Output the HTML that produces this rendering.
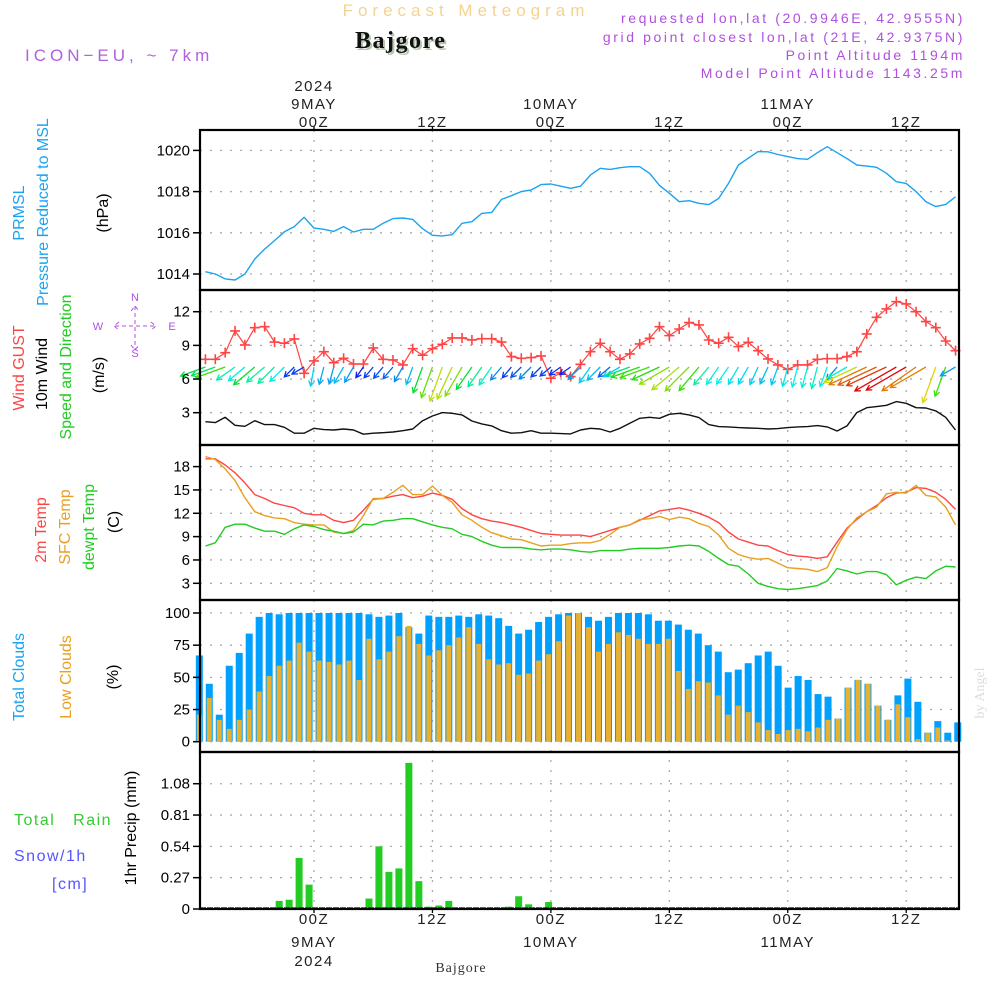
<!DOCTYPE html>
<html><head><meta charset="utf-8"><style>
html,body{margin:0;padding:0;background:#fff}
svg{display:block}
text{font-family:"Liberation Sans",sans-serif}
</style></head><body>
<svg id="chart" width="1000" height="1000" viewBox="0 0 1000 1000" xmlns="http://www.w3.org/2000/svg">
<rect width="1000" height="1000" fill="#fff"/>
<text x="466" y="16" text-anchor="middle" font-size="17" fill="#f5d38f" letter-spacing="5">Forecast Meteogram</text>
<text x="357" y="50" font-weight="bold" font-size="24" fill="#b8c8b0" letter-spacing="1.5" style="font-family:'Liberation Serif',serif">Bajgore</text>
<text x="355" y="48" font-weight="bold" font-size="24" fill="#111" letter-spacing="1.5" style="font-family:'Liberation Serif',serif">Bajgore</text>
<text x="25" y="61" font-size="17" fill="#b060e0" letter-spacing="4">ICON−EU, ~ 7km</text>
<g font-size="14" fill="#b050e0" text-anchor="end" letter-spacing="2.6">
<text x="965" y="23">requested lon,lat (20.9946E, 42.9555N)</text>
<text x="965" y="42">grid point closest lon,lat (21E, 42.9375N)</text>
<text x="965" y="60">Point Altitude 1194m</text>
<text x="965" y="78">Model Point Altitude 1143.25m</text>
</g>
<g id="grid"></g>
<g id="marks"></g>
<g id="frames"></g>
<g id="labels" font-size="15"></g>
<text transform="translate(984,693) rotate(-90)" text-anchor="middle" font-size="14" fill="#ddd" style="font-family:'Liberation Serif',serif">by Angel</text>
<text x="461" y="972" text-anchor="middle" font-size="14" fill="#333" letter-spacing="1" style="font-family:'Liberation Serif',serif">Bajgore</text>
</svg>
<script>
// ---- data (hours -11 .. 65 relative to 00Z 9 May) ----
const startHour = -11;
const pressure = [1014.11,1014.0,1013.76,1013.71,1014.0,1014.73,1015.21,1015.62,1016.05,1016.3,1016.75,1016.23,1016.17,1016.07,1016.3,1016.04,1016.17,1016.17,1016.46,1016.69,1016.72,1016.65,1016.2,1015.88,1015.85,1015.91,1016.46,1016.54,1016.94,1016.99,1017.62,1017.8,1018.0,1018.08,1018.34,1018.37,1018.26,1018.16,1018.26,1018.8,
1019.13,1019.08,1019.16,1019.21,1019.21,1018.89,1018.3,1017.92,1017.51,1017.56,1017.43,1017.37,1017.67,1018.4,1019.29,1019.62,1019.94,1019.93,1019.8,1019.7,1019.6,1019.57,1019.89,1020.18,1019.89,1019.6,1019.29,1019.24,1019.18,1018.89,1018.48,1018.4,1018.0,1017.51,1017.27,1017.38,1017.75];
const gust = [7.76,7.76,8.35,10.29,9.04,10.58,10.67,9.3,9.19,9.57,6.51,7.61,8.44,7.46,7.85,7.34,7.34,8.77,7.76,7.7,7.26,8.71,8.12,8.71,9.1,9.66,9.66,9.48,9.6,9.6,9.3,8.0,7.85,7.91,8.06,6.07,6.57,6.22,7.31,8.44,
9.19,8.44,7.76,8.24,9.13,9.63,10.67,9.87,10.46,11.03,10.82,9.48,9.19,9.72,8.89,9.28,8.53,7.79,7.26,6.87,7.26,7.26,7.76,7.82,7.82,8.0,8.44,10.02,11.5,12.25,12.9,12.69,12.0,11.12,10.58,9.39,8.53];
const windSpeed = [2.2,2.12,2.59,1.88,1.79,2.29,1.94,1.94,1.7,1.17,1.17,1.61,1.49,1.46,1.55,1.46,1.08,1.17,1.22,1.28,1.4,1.55,2.29,2.71,3.01,2.95,2.8,2.26,2.0,1.82,1.4,1.17,1.22,1.4,1.17,1.17,1.14,1.11,1.46,1.61,
1.55,1.28,1.61,2.06,2.5,2.59,2.5,2.86,2.95,2.8,2.56,1.94,1.76,1.73,1.67,1.64,1.61,1.55,1.58,1.67,1.73,1.76,1.85,1.73,1.37,1.82,3.01,3.45,3.54,3.66,3.99,3.84,3.45,3.42,3.16,2.59,1.46];
const windDir = [70,70,70,55,50,50,50,45,45,45,60,10,15,15,30,30,35,40,40,40,30,20,20,20,20,25,30,35,35,35,40,40,45,45,45,50,55,55,45,35,
45,50,60,70,70,70,65,60,50,45,40,40,35,35,30,30,25,25,20,15,15,15,15,20,40,60,65,65,65,65,60,60,55,60,20,20,60];
const temp2m = [19.0,19.0,18.2,17.2,15.9,14.4,13.9,13.3,13.0,12.7,12.0,11.8,11.8,11.1,10.8,11.1,12.4,13.8,13.9,14.2,14.4,14.0,14.2,14.6,14.3,13.8,12.6,11.8,11.3,11.0,10.8,10.5,10.2,9.8,9.4,9.3,9.2,9.2,9.2,
9.0,9.4,9.8,10.2,10.5,11.1,11.7,12.3,12.5,12.7,12.4,12.0,11.5,10.8,9.6,8.7,8.3,7.9,7.8,7.2,6.7,6.5,6.4,6.2,6.4,8.3,10.1,11.2,12.2,13.0,14.0,14.6,14.7,15.3,15.2,14.7,13.8,12.5];
const tempSfc = [19.3,18.9,17.7,16.2,14.0,12.2,11.7,11.4,11.3,10.8,10.6,10.5,10.5,9.6,9.4,9.8,11.7,13.9,13.9,14.7,15.6,14.4,14.4,15.5,14.3,13.4,11.8,11.1,10.2,9.5,9.1,8.7,8.6,8.2,7.8,7.9,7.9,8.1,8.2,
8.2,8.5,9.3,10.2,10.5,11.2,11.3,11.6,11.2,11.5,11.3,10.7,10.3,9.2,7.5,6.7,6.3,6.1,6.2,5.6,5.0,4.9,4.8,4.5,5.0,7.7,9.9,11.4,12.2,12.8,14.5,14.7,14.6,15.6,14.3,14.1,12.8,10.5];
const dewpoint = [7.8,8.2,10.2,10.6,10.6,10.1,9.7,9.7,9.3,10.0,10.5,10.3,9.9,9.7,9.4,9.6,10.6,10.5,11.0,11.1,11.3,11.3,10.9,10.5,10.2,10.0,9.3,9.0,8.4,7.9,7.6,7.6,7.6,7.4,7.3,7.4,7.4,7.3,7.1,
7.0,7.2,7.2,7.2,7.4,7.5,7.5,7.5,7.6,7.8,7.9,7.8,7.1,6.2,5.4,5.2,4.2,3.0,2.6,2.3,2.2,2.3,2.5,2.7,3.3,4.9,4.6,4.2,4.5,4.5,4.1,2.8,3.4,3.8,3.6,4.6,5.2,5.1];
const totalClouds = [67,45,21,59,69,84,97,100,99,100,100,100,100,100,100,100,100,99,97,98,100,89,84,98,97,97,98,97,99,98,96,90,84,87,93,97,99,100,100,
97,94,97,100,100,100,99,94,94,91,87,84,75,70,54,56,61,67,70,59,42,51,48,37,35,18,42,48,45,28,17,36,49,31,7,16,7,15];
const lowClouds = [21,34,17,10,17,25,39,51,59,63,77,70,63,62,60,63,48,80,64,70,82,90,76,67,71,75,81,89,76,64,60,61,52,53,63,68,78,98,100,
89,70,76,85,83,80,76,76,80,55,41,47,46,36,21,28,23,15,9,6,9,10,8,11,17,18,42,48,45,28,17,29,19,2,7,11,1,0];
const precip = [0,0,0,0,0,0,0,0,0.07,0.08,0.44,0.21,0,0,0,0,0,0.09,0.54,0.32,0.35,1.26,0.24,0.02,0.03,0.07,0,0,0,0,0,0.02,0.11,0.04,0.01,0.06,0,0,0,0,0.01,0.01,
0,0,0,0,0,0,0,0,0,0,0,0,0,0,0,0,0,0,0,0,0,0,0,0,0,0,0,0,0,0,0,0,0,0,0];
const pressureTicks = [1014,1016,1018,1020];
const windTicks = [3,6,9,12];
const tempTicks = [3,6,9,12,15,18];
const cloudTicks = [0,25,50,75,100];
const precipTicks = [0,0.27,0.54,0.81,1.08];
const timeTickHours = [0,12,24,36,48,60];
const timeTickLabels = ["00Z","12Z","00Z","12Z","00Z","12Z"];
const dayLabels = ["9MAY","","10MAY","","11MAY",""];

// ---- scales ----
const X0 = 200, X1 = 959;
const xT = h => 314 + h * 9.87;
const xB = i => 199.3 + i * 9.98;
const yP = v => 274 - (v - 1014) * 20.6;
const yW = v => 412.7 - (v - 3) * 11.22;
const yTp = v => 583.3 - (v - 3) * 7.78;
const yC = v => 741.7 - v * 1.287;
const yR = v => 909 - v * 116;
const panels = [[130,290],[290,445],[445,600],[600,752],[752,909]];
const NS = "http://www.w3.org/2000/svg";
function mk(parent, tag, attrs){const e=document.createElementNS(NS,tag);for(const k in attrs)e.setAttribute(k,attrs[k]);parent.appendChild(e);return e;}
const grid = document.getElementById('grid');
const marks = document.getElementById('marks');
const frames = document.getElementById('frames');
const labels = document.getElementById('labels');

function hgrid(ticks, yf, name){
  ticks.forEach(t=>{const l=mk(grid,'line',{x1:X0,x2:X1,y1:yf(t),y2:yf(t),stroke:'#aaa','stroke-width':1.3,'stroke-dasharray':'2,8'});
  
  
  const tk=mk(frames,'line',{x1:193,x2:X0,y1:yf(t),y2:yf(t),stroke:'#000','stroke-width':1.5});
  
  
  const tx=mk(labels,'text',{x:190,y:yf(t)+5,'text-anchor':'end',fill:'#000'});
  
  
  tx.textContent = t;});
}
hgrid(pressureTicks,yP,'pressure');
hgrid(windTicks,yW,'wind');
hgrid(tempTicks,yTp,'temp');
hgrid(cloudTicks,yC,'cloud');
hgrid(precipTicks,yR,'precip');
timeTickHours.forEach((h,i)=>{
  const l=mk(grid,'line',{x1:xT(h),x2:xT(h),y1:130,y2:909,stroke:'#aaa','stroke-width':1.3,'stroke-dasharray':'2,8'});
  
  
  [[126,130],[909,913]].forEach(([a,b])=>{const t=mk(frames,'line',{x1:xT(h),x2:xT(h),y1:a,y2:b,stroke:'#000','stroke-width':1.3});
    
    });
  const top=mk(labels,'text',{x:xT(h),y:127,'text-anchor':'middle',fill:'#222','letter-spacing':1.5});
  
  
  top.textContent=timeTickLabels[i];
  const bot=mk(labels,'text',{x:xT(h),y:924,'text-anchor':'middle',fill:'#222','letter-spacing':1.5});
  
  
  bot.textContent=timeTickLabels[i];
  if(dayLabels[i]){
    const d1=mk(labels,'text',{x:xT(h),y:109,'text-anchor':'middle',fill:'#222','letter-spacing':1.5});
    
    
    d1.textContent=dayLabels[i];
    const d2=mk(labels,'text',{x:xT(h),y:947,'text-anchor':'middle',fill:'#222','letter-spacing':1.5});
    
    
    d2.textContent=dayLabels[i];
  }
});
const y1=mk(labels,'text',{x:xT(0),y:91,'text-anchor':'middle',fill:'#222','letter-spacing':1.5});


y1.textContent='2024';
const y2=mk(labels,'text',{x:xT(0),y:966,'text-anchor':'middle',fill:'#222','letter-spacing':1.5});


y2.textContent='2024';

totalClouds.forEach((v,i)=>{const r=mk(marks,'rect',{x:xB(i)-3.5,y:yC(v),width:7,height:yC(0)-yC(v),fill:'#00a0ff'});
  
  });
lowClouds.forEach((v,i)=>{const r=mk(marks,'rect',{x:xB(i)-2.5,y:yC(v),width:5,height:yC(0)-yC(v),fill:'#e8b030'});
  
  });
precip.forEach((v,i)=>{if(v<=0)return;const r=mk(marks,'rect',{x:xB(i)-3.5,y:yR(v),width:7,height:yR(0)-yR(v),fill:'#22cc22'});
  
  });
const base=mk(marks,'line',{x1:X0,x2:X1,y1:908,y2:908,stroke:'#333','stroke-width':1.5,'stroke-dasharray':'6,1'});



function line(arr, yf, color, name, w){
  const pts=arr.map((v,i)=>xT(startHour+i).toFixed(1)+','+yf(v).toFixed(1)).join(' ');
  const p=mk(marks,'polyline',{points:pts,fill:'none',stroke:color,'stroke-width':w||1.4,'stroke-linejoin':'round'});
  
  
}
line(pressure,yP,'#1aa3f0','pressure-line');
line(windSpeed,yW,'#111','wind-speed-line');
line(temp2m,yTp,'#ff4444','temp-2m-line');
line(tempSfc,yTp,'#e8a020','temp-sfc-line');
line(dewpoint,yTp,'#22cc22','dewpoint-line');
line(gust,yW,'#ff4444','gust-line',1.2);
gust.forEach((v,i)=>{const x=xT(startHour+i),y=yW(v);
  const g=mk(marks,'path',{d:`M${x-5},${y}H${x+5}M${x},${y-5}V${y+5}`,stroke:'#ff4444','stroke-width':1.6});
  
  });
windSpeed.forEach((s,i)=>{
  const x=xT(startHour+i), y=367, L=s*12, d=windDir[i]*Math.PI/180;
  const dx=-Math.sin(d)*L, dy=Math.cos(d)*L, ex=x+dx, ey=y+dy;
  const hue=Math.max(0,Math.min(240,240-(s-1)*85));
  const col=`hsl(${hue},95%,${hue>150?48:45}%)`;
  const a=Math.atan2(dy,dx), hl=6;
  const p1=[ex-hl*Math.cos(a-0.5),ey-hl*Math.sin(a-0.5)], p2=[ex-hl*Math.cos(a+0.5),ey-hl*Math.sin(a+0.5)];
  const ar=mk(marks,'path',{d:`M${x},${y}L${ex},${ey}M${p1[0]},${p1[1]}L${ex},${ey}L${p2[0]},${p2[1]}`,stroke:col,'stroke-width':1.3,fill:'none'});
  
  
});

panels.forEach(([a,b],i)=>{const r=mk(frames,'rect',{x:X0,y:a,width:X1-X0,height:b-a,fill:'none',stroke:'#000','stroke-width':2.2});
  
  });

function vtext(x,y,txt,color,name){const t=mk(labels,'text',{transform:`translate(${x},${y}) rotate(-90)`,'text-anchor':'middle',fill:color,'font-size':16});
  
  
  t.textContent=txt;}
vtext(24,213,'PRMSL','#1aa3f0','prmsl-title');
vtext(48,212,'Pressure Reduced to MSL','#1aa3f0','pressure-title');
vtext(108,213,'(hPa)','#000','pressure-unit');
vtext(24,368,'Wind GUST','#ff4444','gust-title');
vtext(47,374,'10m Wind','#000','wind-title');
vtext(71,367,'Speed and Direction','#22cc22','wind-subtitle');
vtext(104,375,'(m/s)','#000','wind-unit');
vtext(46,530,'2m Temp','#ff4444','temp-2m-title');
vtext(70,527,'SFC Temp','#e8a020','temp-sfc-title');
vtext(94,527,'dewpt Temp','#22cc22','dewpoint-title');
vtext(119,522,'(C)','#000','temp-unit');
vtext(24,677,'Total Clouds','#1aa3f0','total-clouds-title');
vtext(71,677,'Low Clouds','#e8a020','low-clouds-title');
vtext(118,677,'(%)','#000','cloud-unit');
vtext(136,828,'1hr Precip (mm)','#000','precip-title');
[['Total   Rain',14,825,'#33cc33','rain-legend'],['Snow/1h',14,861,'#5555ff','snow-legend'],['[cm]',52,889,'#5555ff','snow-unit']].forEach(([t,x,y,c,n])=>{
  const e=mk(labels,'text',{x:x,y:y,fill:c,'font-size':16,'letter-spacing':1.5});
  
  
  e.style.whiteSpace='pre';
  e.textContent=t;});
const cg=mk(labels,'g',{fill:'#b050e0','font-size':11,'text-anchor':'middle'});


[['N',135,301],['S',135,357],['W',98,330],['E',172,330]].forEach(([t,x,y])=>{const e=mk(cg,'text',{x:x,y:y});e.textContent=t;});
mk(cg,'path',{d:'M115,326H155M135,306V350M119,322L114,326L119,330M151,322L156,326L151,330M131,311L135,306L139,311M131,345L135,350L139,345',stroke:'#b050e0','stroke-width':1,fill:'none','stroke-dasharray':'4,3'});
</script>
</body></html>
